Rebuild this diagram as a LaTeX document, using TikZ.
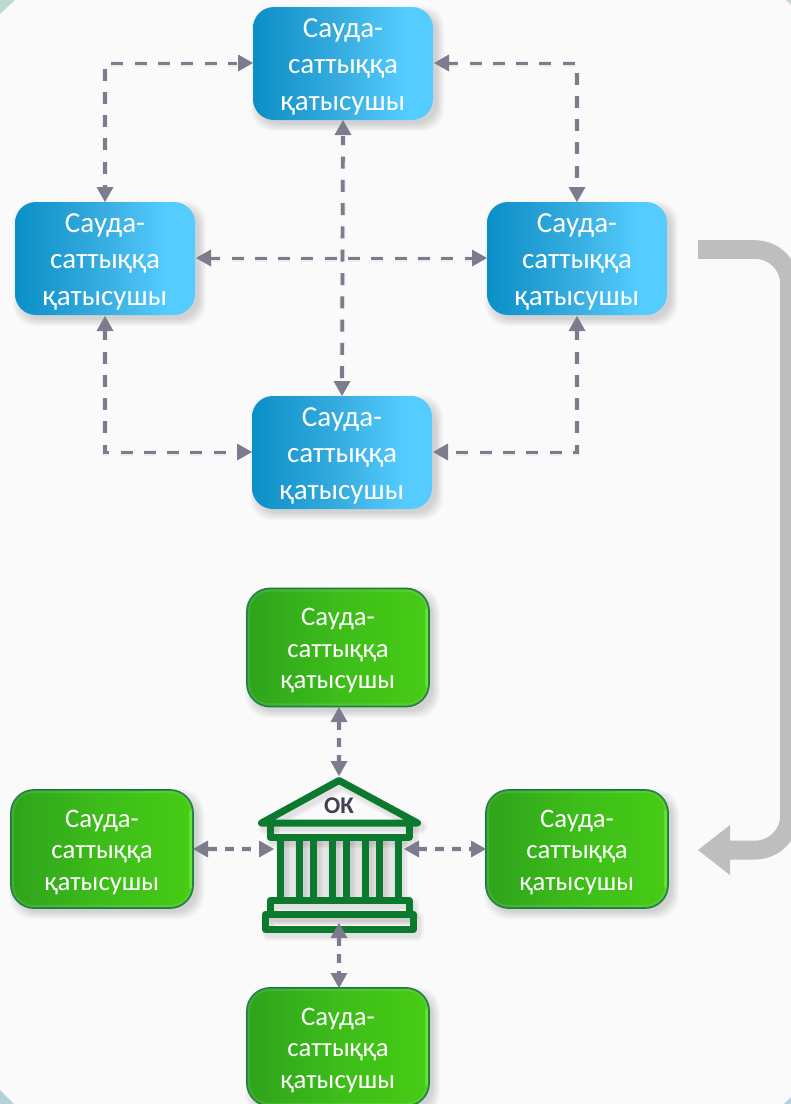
\documentclass[tikz,border=0pt]{standalone}
\usepackage{fontspec}
\setmainfont{Carlito}
\usetikzlibrary{arrows.meta,calc}
\definecolor{bgpage}{HTML}{FAFAFA}
\definecolor{cornera}{HTML}{BFD8D3}
\definecolor{cornerb}{HTML}{B2D1D8}
\definecolor{flowgrey}{HTML}{7C7C8E}
\definecolor{greenedge}{HTML}{167A38}
\definecolor{bankgreen}{HTML}{0B7A2E}
\definecolor{bigarrow}{HTML}{BEBEBE}
\definecolor{oktext}{HTML}{404050}
\definecolor{limerim}{HTML}{70FF40}
\definecolor{bankgrey}{HTML}{E6E6E6}
\pgfdeclarehorizontalshading{blueshade}{100bp}{rgb(0bp)=(0.04,0.56,0.78); rgb(25bp)=(0.04,0.56,0.78); rgb(50bp)=(0.22,0.68,0.88); rgb(67bp)=(0.33,0.80,1); rgb(100bp)=(0.33,0.80,1)}
\pgfdeclarehorizontalshading{greenshade}{100bp}{rgb(0bp)=(0.18,0.64,0.11); rgb(25bp)=(0.18,0.64,0.11); rgb(50bp)=(0.24,0.74,0.10); rgb(75bp)=(0.28,0.80,0.08); rgb(100bp)=(0.28,0.80,0.08)}
\tikzset{
 x=1pt,y=-1pt,
 flow/.style={draw=flowgrey,line width=3.7pt,dash pattern=on 12pt off 11.3pt,dash phase=3pt},
 flowshort/.style={draw=flowgrey,line width=3.4pt,dash pattern=on 9pt off 8pt},
 flowglow/.style={draw=black,opacity=.05,line width=6pt,dash pattern=on 12pt off 11.3pt,dash phase=3pt},
 flowshortglow/.style={draw=black,opacity=.05,line width=6pt,dash pattern=on 9pt off 8pt},
 tipflow/.style={fill=flowgrey,draw=none},
 ptext/.style={text=white,align=center,inner sep=0pt},
 bluebox/.style={inner sep=0pt,minimum width=180pt,minimum height=113pt,rounded corners=21pt,shading=blueshade,draw=none,ptext,font=\fontsize{29}{36.5}\selectfont},
 greenbox/.style={inner sep=0pt,minimum width=182pt,minimum height=118pt,rounded corners=23pt,shading=greenshade,draw=greenedge,line width=1.8pt,ptext,font=\fontsize{26.7}{31.5}\selectfont},
 boxshade/.style={fill=black,draw=none,opacity=.02},
 rimlight/.style={draw=white,opacity=.10,line width=3pt,rounded corners=20pt},
 rimright/.style={draw=limerim,opacity=.45,line width=3pt,line cap=round},
 bank/.style={draw=bankgreen,line width=7pt,line join=round,fill=none},
}
\newcommand{\boxshadow}[5]{% x1 y1 x2 y2 radius
 \foreach \e in {0,1,2,3,4,5,6,7}{
  \fill[boxshade,rounded corners=#5] ({#1+5-\e},{#2+6-\e}) rectangle ({#3+4+\e},{#4+4+\e});
 }}
\newcommand{\tip}[4]{% apex x,y and direction dx,dy
 \fill[tipflow] (#1,#2) -- ({#1-15*(#3)+8.5*(#4)},{#2-15*(#4)+8.5*(#3)}) -- ({#1-15*(#3)-8.5*(#4)},{#2-15*(#4)-8.5*(#3)}) -- cycle;}
\newcommand{\bluelab}{\rule{0pt}{25pt}Сауда-\\саттыққа\\қатысушы}
\newcommand{\greenlab}{\rule{0pt}{24pt}Сауда-\\саттыққа\\қатысушы}
\newcommand{\greenrim}[1]{\draw[rimlight] ($(#1.north west)+(2.6,2.6)$) rectangle ($(#1.south east)+(-2.6,-2.6)$);
 \draw[rimright] ($(#1.north east)+(-3,22)$) -- ($(#1.south east)+(-3,-22)$);}
\newcommand{\bankshape}[1]{%
\draw[#1] (339,780.5) -- (261.5,823) -- (417.5,823) -- cycle;
\draw[#1] (270,823) -- (270,837) -- (409,837) -- (409,823);
\foreach \c in {280,299,313,332,346,365,379,398}{\draw[#1] (\c,837) -- (\c,900);}
\draw[#1] (270,900.5) rectangle (409,914);
\draw[#1] (265.5,914) rectangle (413.5,929.5);}
\begin{document}
\begin{tikzpicture}
\useasboundingbox (0,0) rectangle (791,1104);
\fill[bgpage] (0,0) rectangle (791,1104);
\fill[cornera] (0,0) -- (15,0) -- (0,14) -- cycle;
\fill[cornera] (786,0) -- (791,0) -- (791,5) -- cycle;
\fill[cornerb] (0,1090) -- (14,1104) -- (0,1104) -- cycle;
\fill[cornerb] (784,1104) -- (791,1104) -- (791,1097) -- cycle;
\boxshadow{253}{7}{433}{120}{21pt}
\boxshadow{15}{202}{195}{315}{21pt}
\boxshadow{487}{202}{667}{315}{21pt}
\boxshadow{252}{396}{432}{509}{21pt}
\boxshadow{247}{588}{429}{707}{23pt}
\boxshadow{11}{790}{193}{908}{23pt}
\boxshadow{486}{790}{668}{908}{23pt}
\boxshadow{247}{988}{429}{1106}{23pt}
% big arrow
\fill[bigarrow] (698,240.2) -- (755,240.2) arc[start angle=90,end angle=0,radius=44pt] -- (799,815.5) arc[start angle=0,end angle=-90,radius=44pt] -- (730,859.5) -- (730,875) -- (698,850) -- (730,825) -- (730,840.7) -- (755,840.7) arc[start angle=-90,end angle=0,radius=25.2pt] -- (780.2,284) arc[start angle=0,end angle=90,radius=25.2pt] -- (698,258.8) -- cycle;
% nodes
\node[bluebox] (top) at (343,63.5) {\bluelab};
\node[bluebox] (left) at (105,258.5) {\bluelab};
\node[bluebox] (right) at (577,258.5) {\bluelab};
\node[bluebox] (bottom) at (342,452.5) {\bluelab};
\node[greenbox] (gtop) at (338,647.5) {\greenlab};
\node[greenbox] (gleft) at (102,849) {\greenlab};
\node[greenbox] (gright) at (577,849) {\greenlab};
\node[greenbox] (gbottom) at (338,1047) {\greenlab};
\greenrim{gtop}\greenrim{gleft}\greenrim{gright}\greenrim{gbottom}
% blue connectors
\coordinate (ctl) at (left.north |- top.west);
\coordinate (ctr) at (right.north |- top.east);
\coordinate (cbl) at (left.south |- bottom.west);
\coordinate (cbr) at (right.south |- bottom.east);
\begin{scope}[shift={(3,4)}]
\draw[flowglow] ($(top.west)+(-16,0)$) -- (ctl) -- ($(left.north)+(0,-14)$);
\draw[flowglow] ($(top.east)+(16,0)$) -- (ctr) -- ($(right.north)+(0,-14)$);
\draw[flowglow] ($(left.south)+(0,16)$) -- (cbl) -- ($(bottom.west)+(-14,0)$);
\draw[flowglow] ($(right.south)+(0,16)$) -- (cbr) -- ($(bottom.east)+(14,0)$);
\draw[flowglow] ($(left.east)+(16,0)$) -- ($(right.west)+(-14,0)$);
\draw[flowglow] ($(top.south)+(0,16)$) -- ($(bottom.north)+(0,-14)$);
\end{scope}
\draw[flow] ($(top.west)+(-16,0)$) -- (ctl) -- ($(left.north)+(0,-14)$);
\draw[flow] ($(top.east)+(16,0)$) -- (ctr) -- ($(right.north)+(0,-14)$);
\draw[flow] ($(left.south)+(0,16)$) -- (cbl) -- ($(bottom.west)+(-14,0)$);
\draw[flow] ($(right.south)+(0,16)$) -- (cbr) -- ($(bottom.east)+(14,0)$);
\draw[flow] ($(left.east)+(16,0)$) -- ($(right.west)+(-14,0)$);
\draw[flow] ($(top.south)+(0,16)$) -- ($(bottom.north)+(0,-14)$);
\tip{253}{63}{1}{0}\tip{434}{63}{-1}{0}
\tip{105}{202}{0}{1}\tip{577}{202}{0}{1}
\tip{105}{316}{0}{-1}\tip{577}{316}{0}{-1}
\tip{252}{452}{1}{0}\tip{433}{452}{-1}{0}
\tip{196}{258}{-1}{0}\tip{487}{258}{1}{0}
\tip{343}{120}{0}{-1}\tip{342}{396}{0}{1}
% bank
\fill[bankgrey] (280,837) rectangle (398,900);
\begin{scope}[shift={(3,4)},opacity=.03]
\bankshape{draw=black,line width=8pt,line join=round}
\bankshape{draw=black,line width=11pt,line join=round}
\bankshape{draw=black,line width=14pt,line join=round}
\end{scope}
\bankshape{bank}
\node[text=oktext,font=\fontsize{24}{24}\selectfont\bfseries,inner sep=0pt] (ok) at (339,806) {ОК};
% green connectors
\coordinate (bt) at (339,777);
\coordinate (bb) at (339,923);
\coordinate (bl) at (274,849);
\coordinate (br) at (404,849);
\begin{scope}[shift={(3,4)}]
\draw[flowshortglow] ($(gtop.south)+(1,14)$) -- ($(bt)+(0,-14)$);
\draw[flowshortglow] ($(bb)+(0,14)$) -- ($(gbottom.north)+(1,-14)$);
\draw[flowshortglow] ($(gleft.east)+(14,0)$) -- ($(bl)+(-14,0)$);
\draw[flowshortglow] ($(br)+(14,0)$) -- ($(gright.west)+(-14,0)$);
\end{scope}
\draw[flowshort] ($(gtop.south)+(1,14)$) -- ($(bt)+(0,-14)$);
\draw[flowshort] ($(bb)+(0,14)$) -- ($(gbottom.north)+(1,-14)$);
\draw[flowshort] ($(gleft.east)+(14,0)$) -- ($(bl)+(-14,0)$);
\draw[flowshort] ($(br)+(14,0)$) -- ($(gright.west)+(-14,0)$);
\tip{339}{707}{0}{-1}\tip{339}{776}{0}{1}
\tip{339}{923}{0}{-1}\tip{339}{988}{0}{1}
\tip{193}{849}{-1}{0}\tip{274}{849}{1}{0}
\tip{404}{849}{-1}{0}\tip{486}{849}{1}{0}
\end{tikzpicture}
\end{document}
